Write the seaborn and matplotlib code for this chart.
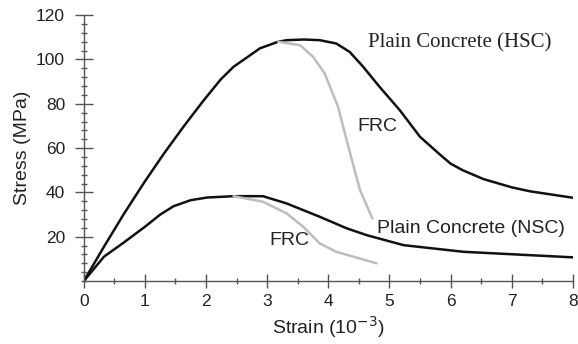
import matplotlib
matplotlib.use("Agg")
import matplotlib.pyplot as plt
import seaborn as sns
import pandas as pd
from matplotlib.ticker import MultipleLocator

# Data
hsc_strain = [0, 0.33, 0.66, 1.0, 1.31, 1.64, 1.96, 2.24, 2.45, 2.7, 2.88, 3.18, 3.32, 3.6, 3.86,
              4.13, 4.35, 4.57, 4.84, 5.17, 5.5, 5.83, 6.0, 6.2, 6.54, 7.0, 7.3, 8.0]
hsc_stress = [0, 15.5, 30.5, 45, 57.5, 70, 81.5, 91, 96.7, 101.5, 105, 108, 108.7, 109, 108.7,
              107.2, 103.4, 96.7, 87.6, 77.1, 65.1, 57, 53, 50, 46, 42.3, 40.5, 37.6]

hsc_frc_strain = [3.18, 3.54, 3.75, 3.94, 4.16, 4.3, 4.43, 4.52, 4.72]
hsc_frc_stress = [108, 106.4, 101.2, 93.7, 78.6, 63.6, 50.1, 41, 28.3]

nsc_strain = [0, 0.33, 0.66, 1.0, 1.25, 1.47, 1.75, 2.02, 2.45, 2.93, 3.32, 3.86, 4.3, 4.63, 5.23, 6.21, 8.0]
nsc_stress = [0, 11, 17.5, 24.5, 30, 33.8, 36.5, 37.7, 38.3, 38.3, 35, 29, 23.8, 20.7, 16.2, 13.2, 10.7]

nsc_frc_strain = [2.45, 2.93, 3.32, 3.59, 3.86, 4.13, 4.79]
nsc_frc_stress = [38.3, 35.8, 30.5, 24.5, 17, 13.2, 8]

x_ticks = [0, 1, 2, 3, 4, 5, 6, 7, 8]
y_ticks = [20, 40, 60, 80, 100, 120]

sns.set_style("ticks")
plt.rcParams['font.family'] = ['Liberation Sans', 'DejaVu Sans']

fig = plt.figure(figsize=(5.78, 3.44), dpi=100)
ax = fig.add_axes([0.145, 0.183, 0.846, 0.773])

curves = [
    (hsc_strain, hsc_stress, "#111111"),
    (nsc_strain, nsc_stress, "#111111"),
    (hsc_frc_strain, hsc_frc_stress, "#bdbdbd"),
    (nsc_frc_strain, nsc_frc_stress, "#bdbdbd"),
]
for xs, ys, col in curves:
    df = pd.DataFrame({"strain": xs, "stress": ys})
    sns.lineplot(data=df, x="strain", y="stress", sort=False, color=col,
                 linewidth=1.8, ax=ax, estimator=None)

ax.set_xlim(0, 8)
ax.set_ylim(0, 120)
ax.set_xticks(x_ticks)
ax.set_yticks(y_ticks)
ax.xaxis.set_minor_locator(MultipleLocator(0.5))
ax.yaxis.set_minor_locator(MultipleLocator(4))
ax.tick_params(axis="y", which="major", direction="inout", length=13, width=1, color="#555555",
               labelsize=12.5, labelcolor="#222222", pad=7)
ax.tick_params(axis="x", which="major", direction="inout", length=10, width=1, color="#555555",
               labelsize=12.5, labelcolor="#222222", pad=4)
ax.tick_params(axis="y", which="minor", direction="inout", length=4.5, width=1, color="#555555")
ax.tick_params(axis="x", which="minor", direction="inout", length=4, width=1, color="#555555")
for s in ["top", "right"]:
    ax.spines[s].set_visible(False)
for s in ["left", "bottom"]:
    ax.spines[s].set_color("#555555")
    ax.spines[s].set_linewidth(1)

ax.set_xlabel("Strain (10$^{-3}$)", fontsize=14, color="#222222", labelpad=4)
ax.set_ylabel("Stress (MPa)", fontsize=14, color="#222222", labelpad=4)

ax.text(4.65, 107.4, "Plain Concrete (HSC)", family="Liberation Serif", fontsize=15,
        va="center", ha="left", color="#222222")
ax.text(4.81, 69.6, "FRC", fontsize=14, va="center", ha="center", color="#222222")
ax.text(4.79, 23.8, "Plain Concrete (NSC)", fontsize=14, va="center", ha="left", color="#222222")
ax.text(3.37, 18.3, "FRC", fontsize=14, va="center", ha="center", color="#222222")

fig.savefig("out.png", dpi=100)
